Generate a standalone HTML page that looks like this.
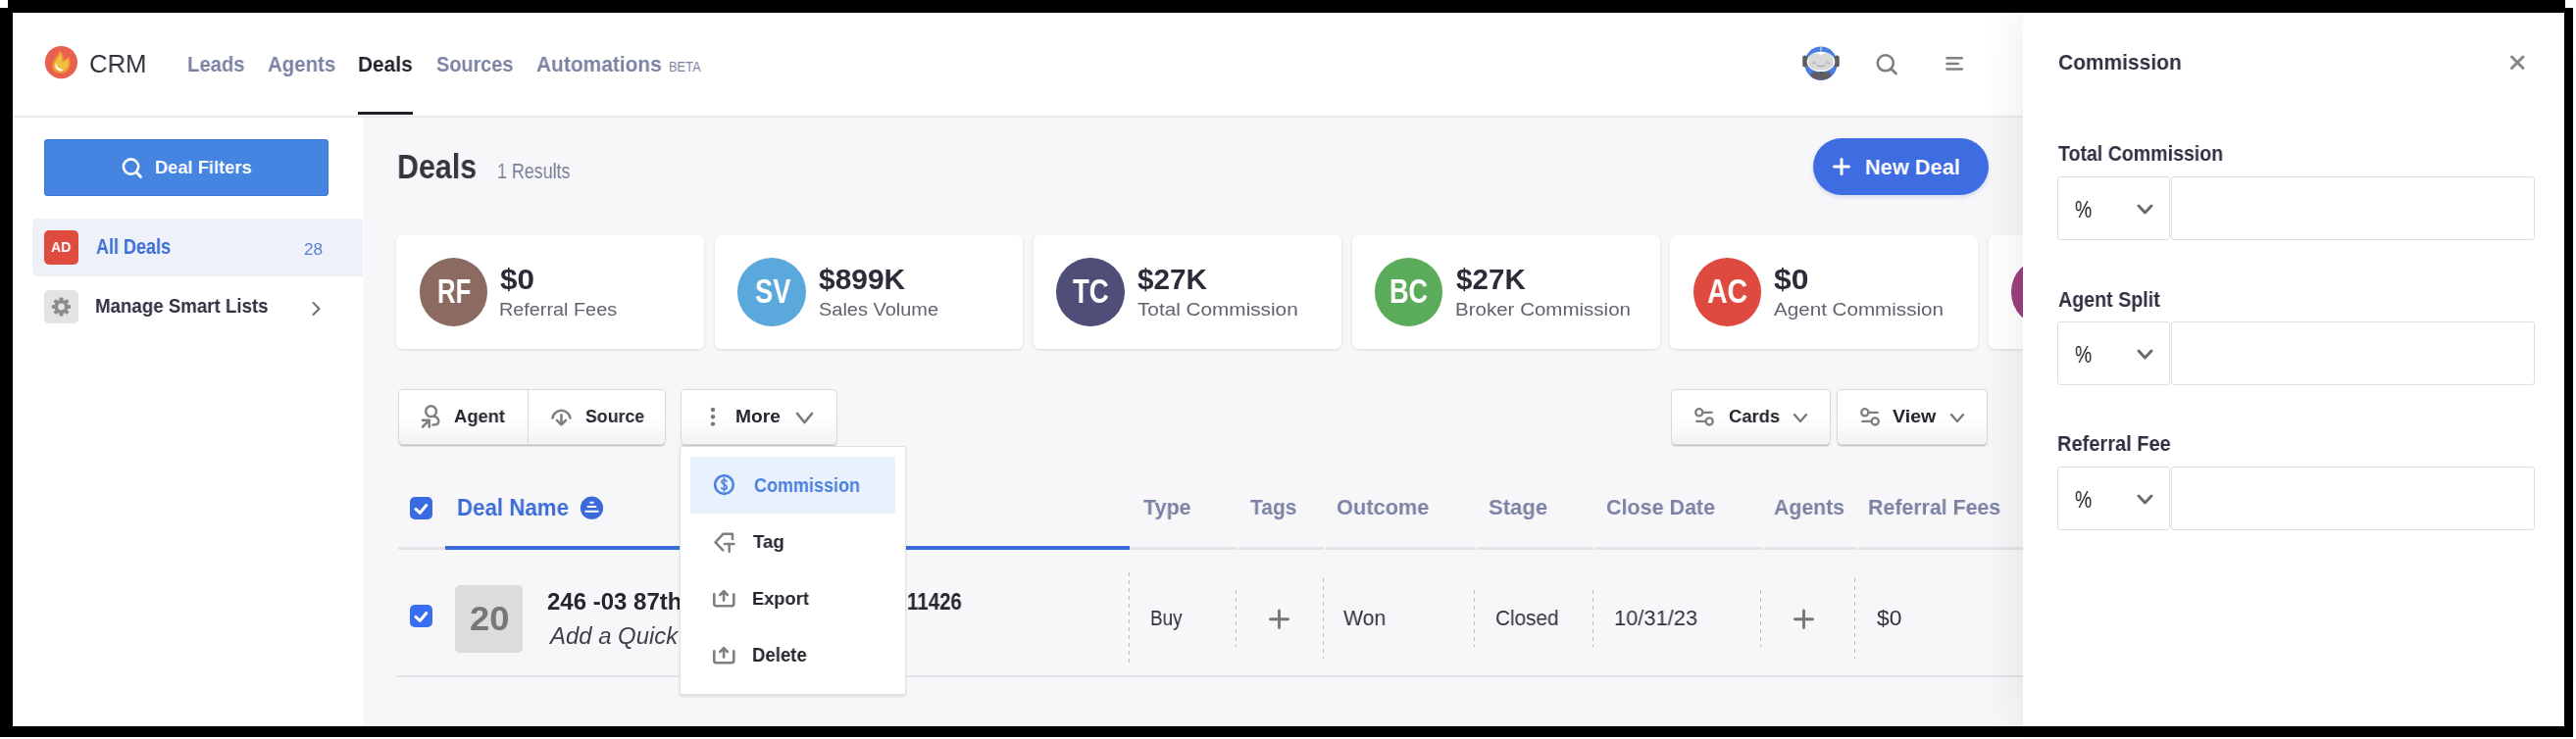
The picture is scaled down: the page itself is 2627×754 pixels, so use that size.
<!DOCTYPE html>
<html><head><meta charset="utf-8"><style>
html,body{margin:0;padding:0;}
body{width:2627px;height:754px;position:relative;overflow:hidden;background:#fff;font-family:"Liberation Sans",sans-serif;}
</style></head><body>
<div style="position:absolute;left:371px;top:120px;width:2244px;height:621px;background:#f7f7f9"></div>
<div style="position:absolute;left:13px;top:118px;width:2050px;height:2px;background:#ebebee"></div>
<div style="position:absolute;left:365px;top:114px;width:56px;height:3px;background:#1f2029"></div>
<svg style="position:absolute;left:44px;top:45px;" width="36" height="36" viewBox="0 0 36 36">
<circle cx="18.4" cy="18.6" r="16.6" fill="#e8604e"/>
<path d="M16.8 6.5 C19.5 9 21.5 12 20.5 16.5 C22.5 15.5 24.5 14.5 26.3 12.5 C28.5 17 28.5 24 24 28 C20 31 12.5 30.5 10 26 C8 22 9.5 18 12 14.5 C14 11.5 16.5 9.5 16.8 6.5 Z" fill="#f2913c"/>
<path d="M17.2 9.5 C19 11.5 19.8 14.5 18.8 18.5 C21.5 18 23.5 16.8 25.2 15.5 C26.3 19.5 25.8 23.5 22.8 26.2 C19.5 28.7 13.8 28.3 11.9 25 C10.5 22 11.6 18.8 13.6 16 C15.3 13.5 17 11.8 17.2 9.5 Z" fill="#eec23e"/>
<path d="M12.6 19.5 C11.6 24.5 15 28.2 20.2 27.3 C19.6 25.6 17.2 25.4 15.7 24 C14.2 22.6 13.4 21 12.6 19.5 Z" fill="#ffffff"/>
</svg>
<svg style="position:absolute;left:1836px;top:45px;" width="42" height="40" viewBox="0 0 42 40">
<ellipse cx="21" cy="19.8" rx="16.6" ry="17.3" fill="#4a7ee0"/>
<path d="M12 28.6 H30 Q32.5 31.5 29.5 34.5 Q21 38.6 12.5 34.5 Q9.5 31.5 12 28.6 Z" fill="#5f5f5f"/>
<rect x="20" y="28.2" width="2.2" height="1.6" rx="0.8" fill="#333"/>
<rect x="2.2" y="11.5" width="5.5" height="12" rx="2.5" fill="#5f5f5f"/>
<rect x="34.3" y="11.5" width="5.5" height="12" rx="2.5" fill="#5f5f5f"/>
<ellipse cx="21" cy="18" rx="14.3" ry="10.2" fill="#ffffff"/>
<path d="M8.2 18.5 Q8.2 10 15 9.3 Q18.5 9.2 21 11 Q23.5 9.2 27 9.3 Q33.8 10 33.8 18.5 Q33.5 26.6 21 26.8 Q8.5 26.6 8.2 18.5 Z" fill="#d8d8d8"/>
<path d="M12.5 19.8 Q14.3 17.3 16.1 19.8 M25.9 19.8 Q27.7 17.3 29.5 19.8 M17 21.8 Q21 24 25 21.8" stroke="#9a9a9a" stroke-width="0.9" fill="none"/>
<rect x="20.4" y="2.5" width="1.2" height="6" fill="#c9d6f2"/>
</svg>
<svg style="position:absolute;left:1910px;top:52px;" width="28" height="28" viewBox="0 0 28 28"><circle cx="12.8" cy="12.3" r="8" stroke="#808080" stroke-width="2.6" fill="none"/><path d="M18.6 18.2 L23.5 23" stroke="#808080" stroke-width="2.8" stroke-linecap="round"/></svg>
<svg style="position:absolute;left:1982px;top:55px;" width="24" height="20" viewBox="0 0 24 20"><path d="M3.5 4.3 H18.8 M3.5 9.9 H14.8 M3.5 15.6 H18.8" stroke="#808080" stroke-width="2.5" stroke-linecap="round"/></svg>
<div style="position:absolute;left:33px;top:223px;width:337px;height:59px;background:#eff1f8;border-radius:5px 0 0 5px"></div>
<div style="position:absolute;left:45px;top:142px;width:290px;height:58px;background:#4584e0;border-radius:4px;box-shadow:inset 0 0 0 1px #3f78d4"></div>
<svg style="position:absolute;left:120px;top:158px;" width="30" height="28" viewBox="0 0 30 28"><circle cx="13.5" cy="12" r="7.6" stroke="#fff" stroke-width="2.6" fill="none"/><path d="M19 17.7 L23.5 22.5" stroke="#fff" stroke-width="2.8" stroke-linecap="round"/></svg>
<div style="position:absolute;left:45px;top:235px;width:35px;height:35px;background:#e04b3f;border-radius:5px"></div>
<div style="position:absolute;left:45px;top:296px;width:35px;height:34px;background:#e3e3e3;border-radius:5px"></div>
<svg style="position:absolute;left:45px;top:296px;" width="35" height="34" viewBox="0 0 35 34"><g transform="translate(17.5 17)"><rect x="-2" y="-9.6" width="4" height="5" rx="1.2" fill="#8c8c8c" transform="rotate(0)"/><rect x="-2" y="-9.6" width="4" height="5" rx="1.2" fill="#8c8c8c" transform="rotate(45)"/><rect x="-2" y="-9.6" width="4" height="5" rx="1.2" fill="#8c8c8c" transform="rotate(90)"/><rect x="-2" y="-9.6" width="4" height="5" rx="1.2" fill="#8c8c8c" transform="rotate(135)"/><rect x="-2" y="-9.6" width="4" height="5" rx="1.2" fill="#8c8c8c" transform="rotate(180)"/><rect x="-2" y="-9.6" width="4" height="5" rx="1.2" fill="#8c8c8c" transform="rotate(225)"/><rect x="-2" y="-9.6" width="4" height="5" rx="1.2" fill="#8c8c8c" transform="rotate(270)"/><rect x="-2" y="-9.6" width="4" height="5" rx="1.2" fill="#8c8c8c" transform="rotate(315)"/><circle r="6.9" fill="#8c8c8c"/><circle r="3.4" fill="#e3e3e3"/></g></svg>
<svg style="position:absolute;left:313px;top:303px;" width="20" height="24" viewBox="0 0 20 24"><path d="M6.5 6 L12.5 12 L6.5 18" stroke="#6e6e6e" stroke-width="2" fill="none" stroke-linecap="round" stroke-linejoin="round"/></svg>
<div style="position:absolute;left:1849px;top:141px;width:179px;height:58px;background:#3e6de2;border-radius:29px;box-shadow:0 2px 4px rgba(40,80,180,0.18)"></div>
<svg style="position:absolute;left:1866px;top:158px;" width="24" height="24" viewBox="0 0 24 24"><path d="M12 4.5 V19.5 M4.5 12 H19.5" stroke="#fff" stroke-width="3" stroke-linecap="round"/></svg>
<div style="position:absolute;left:404px;top:240px;width:314px;height:116px;background:#fff;border-radius:6px;box-shadow:0 1px 3px rgba(0,0,0,0.12)"></div>
<div style="position:absolute;left:427.65px;top:263px;width:69.5px;height:69.5px;border-radius:50%;background:#8b6b61"></div>
<div style="position:absolute;left:729px;top:240px;width:314px;height:116px;background:#fff;border-radius:6px;box-shadow:0 1px 3px rgba(0,0,0,0.12)"></div>
<div style="position:absolute;left:752.40px;top:263px;width:69.5px;height:69.5px;border-radius:50%;background:#5ba8dc"></div>
<div style="position:absolute;left:1054px;top:240px;width:314px;height:116px;background:#fff;border-radius:6px;box-shadow:0 1px 3px rgba(0,0,0,0.12)"></div>
<div style="position:absolute;left:1077.15px;top:263px;width:69.5px;height:69.5px;border-radius:50%;background:#4f4e78"></div>
<div style="position:absolute;left:1379px;top:240px;width:314px;height:116px;background:#fff;border-radius:6px;box-shadow:0 1px 3px rgba(0,0,0,0.12)"></div>
<div style="position:absolute;left:1401.90px;top:263px;width:69.5px;height:69.5px;border-radius:50%;background:#5aab5a"></div>
<div style="position:absolute;left:1703px;top:240px;width:314px;height:116px;background:#fff;border-radius:6px;box-shadow:0 1px 3px rgba(0,0,0,0.12)"></div>
<div style="position:absolute;left:1726.65px;top:263px;width:69.5px;height:69.5px;border-radius:50%;background:#de4a3f"></div>
<div style="position:absolute;left:2028px;top:240px;width:314px;height:116px;background:#fff;border-radius:6px;box-shadow:0 1px 3px rgba(0,0,0,0.12)"></div>
<div style="position:absolute;left:2051.40px;top:263px;width:69.5px;height:69.5px;border-radius:50%;background:#9b3f7e"></div>
<div style="position:absolute;left:406px;top:397px;width:273px;height:57px;background:linear-gradient(#fff 50%,#f3f3f5);border:1px solid #d8d9dd;border-radius:5px;box-shadow:0 2px 2px -1px rgba(0,0,0,0.28);box-sizing:border-box"></div>
<div style="position:absolute;left:538px;top:398px;width:1px;height:55px;background:#dcdde1"></div>
<div style="position:absolute;left:694px;top:397px;width:160px;height:57px;background:linear-gradient(#fff 50%,#f3f3f5);border:1px solid #d8d9dd;border-radius:5px;box-shadow:0 2px 2px -1px rgba(0,0,0,0.28);box-sizing:border-box"></div>
<div style="position:absolute;left:1704px;top:397px;width:163px;height:57px;background:linear-gradient(#fff 50%,#f3f3f5);border:1px solid #d8d9dd;border-radius:5px;box-shadow:0 2px 2px -1px rgba(0,0,0,0.28);box-sizing:border-box"></div>
<div style="position:absolute;left:1873px;top:397px;width:154px;height:57px;background:linear-gradient(#fff 50%,#f3f3f5);border:1px solid #d8d9dd;border-radius:5px;box-shadow:0 2px 2px -1px rgba(0,0,0,0.28);box-sizing:border-box"></div>
<svg style="position:absolute;left:424px;top:408px;" width="32" height="32" viewBox="0 0 32 32"><circle cx="15.6" cy="11.7" r="5.4" stroke="#808080" stroke-width="2.5" fill="none"/><path d="M18.5 16.5 C23 18 24 21 23 23.5 C22 25.5 19.5 25.5 17.5 25.5" stroke="#808080" stroke-width="2.5" fill="none" stroke-linecap="round"/><path d="M7 27.5 L13.8 20.7 M7 20.8 H13.8 V27.5" stroke="#808080" stroke-width="2.5" fill="none" stroke-linecap="round" stroke-linejoin="round"/></svg>
<svg style="position:absolute;left:556px;top:408px;" width="32" height="32" viewBox="0 0 32 32"><path d="M7.5 18.5 A9.1 9.1 0 0 1 25.5 18.5" stroke="#808080" stroke-width="2.6" fill="none" stroke-linecap="round"/><path d="M16.5 15.2 V25.2 M12 20.8 L16.5 25.3 L21 20.8" stroke="#808080" stroke-width="2.6" fill="none" stroke-linecap="round" stroke-linejoin="round"/></svg>
<svg style="position:absolute;left:720px;top:412px;" width="14" height="26" viewBox="0 0 14 26"><circle cx="7" cy="6" r="2.2" fill="#7a7a7a"/><circle cx="7" cy="13.3" r="2.2" fill="#7a7a7a"/><circle cx="7" cy="20.6" r="2.2" fill="#7a7a7a"/></svg>
<svg style="position:absolute;left:811px;top:420px;" width="19" height="13" viewBox="0 0 19 13"><path d="M2 2 L9.5 11 L17 2" stroke="#7a7a7a" stroke-width="2.7" fill="none" stroke-linecap="round" stroke-linejoin="round"/></svg>
<svg style="position:absolute;left:1725px;top:413px;" width="26" height="26" viewBox="0 0 26 26"><circle cx="7.8" cy="7.8" r="3.6" stroke="#808080" stroke-width="2.3" fill="none"/><path d="M11.5 7.8 H20.8" stroke="#808080" stroke-width="2.3" stroke-linecap="round"/><circle cx="18.2" cy="16.9" r="3.6" stroke="#808080" stroke-width="2.3" fill="none"/><path d="M5.2 16.9 H14.5" stroke="#808080" stroke-width="2.3" stroke-linecap="round"/></svg>
<svg style="position:absolute;left:1894px;top:413px;" width="26" height="26" viewBox="0 0 26 26"><circle cx="7.8" cy="7.8" r="3.6" stroke="#808080" stroke-width="2.3" fill="none"/><path d="M11.5 7.8 H20.8" stroke="#808080" stroke-width="2.3" stroke-linecap="round"/><circle cx="18.2" cy="16.9" r="3.6" stroke="#808080" stroke-width="2.3" fill="none"/><path d="M5.2 16.9 H14.5" stroke="#808080" stroke-width="2.3" stroke-linecap="round"/></svg>
<svg style="position:absolute;left:1828px;top:421px;" width="16" height="11" viewBox="0 0 16 11"><path d="M2 2 L8.0 9 L14 2" stroke="#7a7a7a" stroke-width="2.3" fill="none" stroke-linecap="round" stroke-linejoin="round"/></svg>
<svg style="position:absolute;left:1988px;top:421px;" width="16" height="11" viewBox="0 0 16 11"><path d="M2 2 L8.0 9 L14 2" stroke="#7a7a7a" stroke-width="2.3" fill="none" stroke-linecap="round" stroke-linejoin="round"/></svg>
<div style="position:absolute;left:406px;top:558px;width:1657px;height:3px;background:#e3e4e8"></div>
<div style="position:absolute;left:454px;top:557px;width:698px;height:4px;background:#3b6bdb"></div>
<div style="position:absolute;left:1261px;top:557px;width:2px;height:5px;background:#f7f7f9"></div>
<div style="position:absolute;left:1350px;top:557px;width:2px;height:5px;background:#f7f7f9"></div>
<div style="position:absolute;left:1505px;top:557px;width:2px;height:5px;background:#f7f7f9"></div>
<div style="position:absolute;left:1625px;top:557px;width:2px;height:5px;background:#f7f7f9"></div>
<div style="position:absolute;left:1797px;top:557px;width:2px;height:5px;background:#f7f7f9"></div>
<div style="position:absolute;left:1893px;top:557px;width:2px;height:5px;background:#f7f7f9"></div>
<div style="position:absolute;left:418px;top:507px;width:23px;height:23px;background:#3b6be0;border-radius:5px"></div>
<svg style="position:absolute;left:418px;top:507px;" width="23" height="23" viewBox="0 0 23 23"><path d="M6 12.4 L10.3 16.3 L16.8 8.5" stroke="#fff" stroke-width="3" fill="none" stroke-linecap="round" stroke-linejoin="round"/></svg>
<svg style="position:absolute;left:591px;top:506px;" width="25" height="25" viewBox="0 0 25 25"><circle cx="12.5" cy="12.2" r="11.6" fill="#3b6bdb"/><path d="M11.2 6.7 H13.8 M8.6 11 H16.4 M6.3 15.7 H18.7" stroke="#fff" stroke-width="2" stroke-linecap="round"/></svg>
<div style="position:absolute;left:418px;top:617px;width:23px;height:23px;background:#3a6ef0;border-radius:5px"></div>
<svg style="position:absolute;left:418px;top:617px;" width="23" height="23" viewBox="0 0 23 23"><path d="M6 12.4 L10.3 16.3 L16.8 8.5" stroke="#fff" stroke-width="3" fill="none" stroke-linecap="round" stroke-linejoin="round"/></svg>
<div style="position:absolute;left:464px;top:597px;width:69px;height:69px;background:#dcdcdc;border-radius:5px"></div>
<div style="position:absolute;left:404px;top:689px;width:1659px;height:2px;background:#e3e4e8"></div>
<div style="position:absolute;left:1151px;top:584px;width:1px;height:92px;background:repeating-linear-gradient(to bottom,#bcbdc2 0 4px,transparent 4px 8px)"></div>
<div style="position:absolute;left:1260px;top:602px;width:1px;height:58px;background:repeating-linear-gradient(to bottom,#bcbdc2 0 4px,transparent 4px 8px)"></div>
<div style="position:absolute;left:1349px;top:590px;width:1px;height:82px;background:repeating-linear-gradient(to bottom,#bcbdc2 0 4px,transparent 4px 8px)"></div>
<div style="position:absolute;left:1503px;top:602px;width:1px;height:58px;background:repeating-linear-gradient(to bottom,#bcbdc2 0 4px,transparent 4px 8px)"></div>
<div style="position:absolute;left:1624px;top:602px;width:1px;height:58px;background:repeating-linear-gradient(to bottom,#bcbdc2 0 4px,transparent 4px 8px)"></div>
<div style="position:absolute;left:1795px;top:602px;width:1px;height:58px;background:repeating-linear-gradient(to bottom,#bcbdc2 0 4px,transparent 4px 8px)"></div>
<div style="position:absolute;left:1891px;top:590px;width:1px;height:82px;background:repeating-linear-gradient(to bottom,#bcbdc2 0 4px,transparent 4px 8px)"></div>
<svg style="position:absolute;left:1290px;top:617px;" width="29" height="29" viewBox="0 0 29 29"><path d="M14.5 6 V23.5 M5.5 14.8 H23.5" stroke="#777" stroke-width="2.9" stroke-linecap="round"/></svg>
<svg style="position:absolute;left:1825px;top:617px;" width="29" height="29" viewBox="0 0 29 29"><path d="M14.5 6 V23.5 M5.5 14.8 H23.5" stroke="#777" stroke-width="2.9" stroke-linecap="round"/></svg>
<div style="position:absolute;left:1905.41px;top:505.51px;font-size:22.81px;line-height:22.81px;font-weight:bold;font-style:normal;color:#7b82a3;white-space:nowrap;will-change:transform;transform:scaleX(0.9359);transform-origin:0 0;">Referral Fees</div>
<div style="position:absolute;left:558.10px;top:602.52px;font-size:23.33px;line-height:23.33px;font-weight:bold;font-style:normal;color:#25252f;white-space:nowrap;will-change:transform;transform:scaleX(1.0289);transform-origin:0 0;">246 -03 87th</div>
<div style="position:absolute;left:700.30px;top:602.52px;font-size:23.33px;line-height:23.33px;font-weight:bold;font-style:normal;color:#25252f;white-space:nowrap;will-change:transform;transform:scaleX(0.9718);transform-origin:0 0;">Ave, Floral Park, NY</div>
<div style="position:absolute;left:924.75px;top:602.52px;font-size:23.33px;line-height:23.33px;font-weight:bold;font-style:normal;color:#25252f;white-space:nowrap;will-change:transform;transform:scaleX(0.8784);transform-origin:0 0;">11426</div>
<div style="position:absolute;left:560.53px;top:636.72px;font-size:23.91px;line-height:23.91px;font-weight:normal;font-style:italic;color:#3f3f48;white-space:nowrap;will-change:transform;">Add a Quick Note</div>
<div style="position:absolute;left:1913.70px;top:619.61px;font-size:22.46px;line-height:22.46px;font-weight:normal;font-style:normal;color:#30313c;white-space:nowrap;will-change:transform;transform:scaleX(1.0158);transform-origin:0 0;">$0</div>
<div style="position:absolute;left:693px;top:455px;width:231px;height:254px;background:#fff;border:1px solid #dfe0e4;border-radius:2px;box-shadow:0 2px 3px rgba(0,0,0,0.10);box-sizing:border-box"></div>
<div style="position:absolute;left:704px;top:466px;width:209px;height:58px;background:#e9f1fd"></div>
<svg style="position:absolute;left:726px;top:483px;" width="26" height="26" viewBox="0 0 26 26"><circle cx="12.5" cy="11.6" r="9.3" stroke="#4a84e0" stroke-width="2.6" fill="none"/><path d="M15.2 8.2 C14.6 7 13.6 6.7 12.5 6.7 C11 6.7 9.9 7.5 9.9 8.8 C9.9 11.7 15.3 10.6 15.3 13.9 C15.3 15.3 14.2 16.3 12.5 16.3 C11.1 16.3 10.2 15.8 9.7 14.7 M12.5 4.9 V18.3" stroke="#4a84e0" stroke-width="1.6" fill="none" stroke-linecap="round"/></svg>
<svg style="position:absolute;left:724px;top:540px;" width="30" height="28" viewBox="0 0 30 28"><path d="M13.6 4.7 H23 V10.1 M5.5 13.3 L13.6 4.7 M5.5 13.3 L13.3 21.4 M14.9 15.1 H24.4 M19.7 15.1 V22.7" stroke="#808080" stroke-width="2.5" fill="none" stroke-linecap="round" stroke-linejoin="round"/></svg>
<svg style="position:absolute;left:723px;top:600px;" width="30" height="22" viewBox="0 0 30 22"><path d="M5.3 6.3 V16 C5.3 17.5 6.2 18.3 7.6 18.3 H23 C24.4 18.3 25.3 17.5 25.3 16 V6.3" stroke="#808080" stroke-width="2.6" fill="none" stroke-linecap="round"/><path d="M15.1 12.6 V3.5 M11.3 7 L15.1 3.2 L18.9 7" stroke="#808080" stroke-width="2.6" fill="none" stroke-linecap="round" stroke-linejoin="round"/></svg>
<svg style="position:absolute;left:723px;top:658px;" width="30" height="22" viewBox="0 0 30 22"><path d="M5.3 6.3 V16 C5.3 17.5 6.2 18.3 7.6 18.3 H23 C24.4 18.3 25.3 17.5 25.3 16 V6.3" stroke="#808080" stroke-width="2.6" fill="none" stroke-linecap="round"/><path d="M15.1 12.6 V3.5 M11.3 7 L15.1 3.2 L18.9 7" stroke="#808080" stroke-width="2.6" fill="none" stroke-linecap="round" stroke-linejoin="round"/></svg>
<div style="position:absolute;left:2063px;top:13px;width:552px;height:728px;background:#fff;box-shadow:-8px 0 40px rgba(0,0,0,0.065)"></div>
<svg style="position:absolute;left:2556px;top:53px;" width="22" height="22" viewBox="0 0 22 22"><path d="M5.5 5 L17 16.5 M17 5 L5.5 16.5" stroke="#888" stroke-width="3" stroke-linecap="round"/></svg>
<div style="position:absolute;left:2098px;top:180px;width:115px;height:65px;background:#fff;border:1.5px solid #dddee2;border-radius:3px;box-sizing:border-box"></div>
<div style="position:absolute;left:2214px;top:180px;width:371px;height:65px;background:#fff;border:1.5px solid #dddee2;border-radius:3px;box-sizing:border-box"></div>
<svg style="position:absolute;left:2179px;top:208px;" width="17" height="11" viewBox="0 0 17 11"><path d="M2 2 L8.5 9 L15 2" stroke="#6a6a6a" stroke-width="2.9" fill="none" stroke-linecap="round" stroke-linejoin="round"/></svg>
<div style="position:absolute;left:2098px;top:328px;width:115px;height:65px;background:#fff;border:1.5px solid #dddee2;border-radius:3px;box-sizing:border-box"></div>
<div style="position:absolute;left:2214px;top:328px;width:371px;height:65px;background:#fff;border:1.5px solid #dddee2;border-radius:3px;box-sizing:border-box"></div>
<svg style="position:absolute;left:2179px;top:356px;" width="17" height="11" viewBox="0 0 17 11"><path d="M2 2 L8.5 9 L15 2" stroke="#6a6a6a" stroke-width="2.9" fill="none" stroke-linecap="round" stroke-linejoin="round"/></svg>
<div style="position:absolute;left:2098px;top:476px;width:115px;height:65px;background:#fff;border:1.5px solid #dddee2;border-radius:3px;box-sizing:border-box"></div>
<div style="position:absolute;left:2214px;top:476px;width:371px;height:65px;background:#fff;border:1.5px solid #dddee2;border-radius:3px;box-sizing:border-box"></div>
<svg style="position:absolute;left:2179px;top:504px;" width="17" height="11" viewBox="0 0 17 11"><path d="M2 2 L8.5 9 L15 2" stroke="#6a6a6a" stroke-width="2.9" fill="none" stroke-linecap="round" stroke-linejoin="round"/></svg>
<div style="position:absolute;left:91.45px;top:51.70px;font-size:26.23px;line-height:26.23px;font-weight:normal;font-style:normal;color:#30313c;white-space:nowrap;will-change:transform;transform:scaleX(0.9802);transform-origin:0 0;">CRM</div>
<div style="position:absolute;left:190.93px;top:54.68px;font-size:22.32px;line-height:22.32px;font-weight:bold;font-style:normal;color:#7b82a3;white-space:nowrap;will-change:transform;transform:scaleX(0.9083);transform-origin:0 0;">Leads</div>
<div style="position:absolute;left:273.30px;top:54.68px;font-size:22.32px;line-height:22.32px;font-weight:bold;font-style:normal;color:#7b82a3;white-space:nowrap;will-change:transform;transform:scaleX(0.9152);transform-origin:0 0;">Agents</div>
<div style="position:absolute;left:365.40px;top:54.68px;font-size:22.32px;line-height:22.32px;font-weight:bold;font-style:normal;color:#1f2029;white-space:nowrap;will-change:transform;transform:scaleX(0.9342);transform-origin:0 0;">Deals</div>
<div style="position:absolute;left:445.10px;top:54.68px;font-size:22.32px;line-height:22.32px;font-weight:bold;font-style:normal;color:#7b82a3;white-space:nowrap;will-change:transform;transform:scaleX(0.8892);transform-origin:0 0;">Sources</div>
<div style="position:absolute;left:546.80px;top:54.68px;font-size:22.32px;line-height:22.32px;font-weight:bold;font-style:normal;color:#7b82a3;white-space:nowrap;will-change:transform;transform:scaleX(0.9370);transform-origin:0 0;">Automations</div>
<div style="position:absolute;left:682.42px;top:60.71px;font-size:14.04px;line-height:14.04px;font-weight:normal;font-style:normal;color:#7b82a3;white-space:nowrap;will-change:transform;transform:scaleX(0.9203);transform-origin:0 0;">BETA</div>
<div style="position:absolute;left:157.81px;top:160.65px;font-size:19.12px;line-height:19.12px;font-weight:bold;font-style:normal;color:#ffffff;white-space:nowrap;will-change:transform;transform:scaleX(0.9582);transform-origin:0 0;">Deal Filters</div>
<div style="position:absolute;left:97.60px;top:240.52px;font-size:21.74px;line-height:21.74px;font-weight:bold;font-style:normal;color:#3b6fd8;white-space:nowrap;will-change:transform;transform:scaleX(0.8287);transform-origin:0 0;">All Deals</div>
<div style="position:absolute;left:309.60px;top:246.66px;font-size:16.52px;line-height:16.52px;font-weight:normal;font-style:normal;color:#5a7fd2;white-space:nowrap;will-change:transform;transform:scaleX(1.0378);transform-origin:0 0;">28</div>
<div style="position:absolute;left:52.00px;top:243.64px;font-size:15.36px;line-height:15.36px;font-weight:bold;font-style:normal;color:#ffffff;white-space:nowrap;will-change:transform;transform:scaleX(0.9224);transform-origin:0 0;">AD</div>
<div style="position:absolute;left:96.72px;top:301.58px;font-size:20.43px;line-height:20.43px;font-weight:bold;font-style:normal;color:#2f3040;white-space:nowrap;will-change:transform;transform:scaleX(0.9152);transform-origin:0 0;">Manage Smart Lists</div>
<div style="position:absolute;left:404.63px;top:152.60px;font-size:35.65px;line-height:35.65px;font-weight:bold;font-style:normal;color:#34353f;white-space:nowrap;will-change:transform;transform:scaleX(0.8532);transform-origin:0 0;">Deals</div>
<div style="position:absolute;left:506.52px;top:163.55px;font-size:22.17px;line-height:22.17px;font-weight:normal;font-style:normal;color:#7b8199;white-space:nowrap;will-change:transform;transform:scaleX(0.8062);transform-origin:0 0;">1 Results</div>
<div style="position:absolute;left:1902.17px;top:159.68px;font-size:22.61px;line-height:22.61px;font-weight:bold;font-style:normal;color:#ffffff;white-space:nowrap;will-change:transform;transform:scaleX(0.9647);transform-origin:0 0;">New Deal</div>
<div style="position:absolute;left:463.00px;top:415.53px;font-size:18.55px;line-height:18.55px;font-weight:bold;font-style:normal;color:#25252f;white-space:nowrap;will-change:transform;transform:scaleX(0.9900);transform-origin:0 0;">Agent</div>
<div style="position:absolute;left:596.70px;top:415.53px;font-size:18.55px;line-height:18.55px;font-weight:bold;font-style:normal;color:#25252f;white-space:nowrap;will-change:transform;transform:scaleX(0.9581);transform-origin:0 0;">Source</div>
<div style="position:absolute;left:749.81px;top:415.53px;font-size:18.55px;line-height:18.55px;font-weight:bold;font-style:normal;color:#25252f;white-space:nowrap;will-change:transform;transform:scaleX(1.0360);transform-origin:0 0;">More</div>
<div style="position:absolute;left:1762.80px;top:414.56px;font-size:19.23px;line-height:19.23px;font-weight:bold;font-style:normal;color:#25252f;white-space:nowrap;will-change:transform;transform:scaleX(0.9580);transform-origin:0 0;">Cards</div>
<div style="position:absolute;left:1930.20px;top:414.56px;font-size:19.23px;line-height:19.23px;font-weight:bold;font-style:normal;color:#25252f;white-space:nowrap;will-change:transform;transform:scaleX(1.0198);transform-origin:0 0;">View</div>
<div style="position:absolute;left:466.17px;top:506.69px;font-size:23.19px;line-height:23.19px;font-weight:bold;font-style:normal;color:#3b6bd6;white-space:nowrap;will-change:transform;transform:scaleX(0.9607);transform-origin:0 0;">Deal Name</div>
<div style="position:absolute;left:1165.90px;top:505.51px;font-size:22.81px;line-height:22.81px;font-weight:bold;font-style:normal;color:#7b82a3;white-space:nowrap;will-change:transform;transform:scaleX(0.9423);transform-origin:0 0;">Type</div>
<div style="position:absolute;left:1274.50px;top:505.51px;font-size:22.81px;line-height:22.81px;font-weight:bold;font-style:normal;color:#7b82a3;white-space:nowrap;will-change:transform;transform:scaleX(0.9209);transform-origin:0 0;">Tags</div>
<div style="position:absolute;left:1363.00px;top:505.51px;font-size:22.81px;line-height:22.81px;font-weight:bold;font-style:normal;color:#7b82a3;white-space:nowrap;will-change:transform;transform:scaleX(0.9557);transform-origin:0 0;">Outcome</div>
<div style="position:absolute;left:1518.30px;top:505.51px;font-size:22.81px;line-height:22.81px;font-weight:bold;font-style:normal;color:#7b82a3;white-space:nowrap;will-change:transform;transform:scaleX(0.9673);transform-origin:0 0;">Stage</div>
<div style="position:absolute;left:1638.40px;top:505.51px;font-size:22.81px;line-height:22.81px;font-weight:bold;font-style:normal;color:#7b82a3;white-space:nowrap;will-change:transform;transform:scaleX(0.9422);transform-origin:0 0;">Close Date</div>
<div style="position:absolute;left:1808.90px;top:505.51px;font-size:22.81px;line-height:22.81px;font-weight:bold;font-style:normal;color:#7b82a3;white-space:nowrap;will-change:transform;transform:scaleX(0.9323);transform-origin:0 0;">Agents</div>
<div style="position:absolute;left:479.17px;top:613.63px;font-size:34.49px;line-height:34.49px;font-weight:bold;font-style:normal;color:#777777;white-space:nowrap;will-change:transform;transform:scaleX(1.0561);transform-origin:0 0;">20</div>
<div style="position:absolute;left:1172.89px;top:619.61px;font-size:22.46px;line-height:22.46px;font-weight:normal;font-style:normal;color:#30313c;white-space:nowrap;will-change:transform;transform:scaleX(0.8408);transform-origin:0 0;">Buy</div>
<div style="position:absolute;left:1370.30px;top:619.61px;font-size:22.46px;line-height:22.46px;font-weight:normal;font-style:normal;color:#30313c;white-space:nowrap;will-change:transform;transform:scaleX(0.9457);transform-origin:0 0;">Won</div>
<div style="position:absolute;left:1524.91px;top:619.61px;font-size:22.46px;line-height:22.46px;font-weight:normal;font-style:normal;color:#30313c;white-space:nowrap;will-change:transform;transform:scaleX(0.9219);transform-origin:0 0;">Closed</div>
<div style="position:absolute;left:1645.56px;top:619.61px;font-size:22.46px;line-height:22.46px;font-weight:normal;font-style:normal;color:#30313c;white-space:nowrap;will-change:transform;transform:scaleX(0.9728);transform-origin:0 0;">10/31/23</div>
<div style="position:absolute;left:768.50px;top:484.65px;font-size:20.29px;line-height:20.29px;font-weight:bold;font-style:normal;color:#4a7fe0;white-space:nowrap;will-change:transform;transform:scaleX(0.8876);transform-origin:0 0;">Commission</div>
<div style="position:absolute;left:768.30px;top:542.67px;font-size:19.28px;line-height:19.28px;font-weight:bold;font-style:normal;color:#25252f;white-space:nowrap;will-change:transform;transform:scaleX(0.9694);transform-origin:0 0;">Tag</div>
<div style="position:absolute;left:767.39px;top:600.74px;font-size:19.13px;line-height:19.13px;font-weight:bold;font-style:normal;color:#25252f;white-space:nowrap;will-change:transform;transform:scaleX(0.9557);transform-origin:0 0;">Export</div>
<div style="position:absolute;left:767.40px;top:658.60px;font-size:19.71px;line-height:19.71px;font-weight:bold;font-style:normal;color:#25252f;white-space:nowrap;will-change:transform;transform:scaleX(0.9422);transform-origin:0 0;">Delete</div>
<div style="position:absolute;left:2098.70px;top:51.61px;font-size:22.75px;line-height:22.75px;font-weight:bold;font-style:normal;color:#2f3040;white-space:nowrap;will-change:transform;transform:scaleX(0.9208);transform-origin:0 0;">Commission</div>
<div style="position:absolute;left:2098.70px;top:146.59px;font-size:21.30px;line-height:21.30px;font-weight:bold;font-style:normal;color:#2f3040;white-space:nowrap;will-change:transform;transform:scaleX(0.9188);transform-origin:0 0;">Total Commission</div>
<div style="position:absolute;left:2098.70px;top:295.52px;font-size:21.45px;line-height:21.45px;font-weight:bold;font-style:normal;color:#2f3040;white-space:nowrap;will-change:transform;transform:scaleX(0.9170);transform-origin:0 0;">Agent Split</div>
<div style="position:absolute;left:2097.85px;top:440.61px;font-size:22.75px;line-height:22.75px;font-weight:bold;font-style:normal;color:#2f3040;white-space:nowrap;will-change:transform;transform:scaleX(0.8806);transform-origin:0 0;">Referral Fee</div>
<div style="position:absolute;left:2115.60px;top:201.71px;font-size:24.64px;line-height:24.64px;font-weight:normal;font-style:normal;color:#151515;white-space:nowrap;will-change:transform;transform:scaleX(0.7812);transform-origin:0 0;">%</div>
<div style="position:absolute;left:2115.60px;top:349.71px;font-size:24.64px;line-height:24.64px;font-weight:normal;font-style:normal;color:#151515;white-space:nowrap;will-change:transform;transform:scaleX(0.7812);transform-origin:0 0;">%</div>
<div style="position:absolute;left:2115.60px;top:497.71px;font-size:24.64px;line-height:24.64px;font-weight:normal;font-style:normal;color:#151515;white-space:nowrap;will-change:transform;transform:scaleX(0.7812);transform-origin:0 0;">%</div>
<div style="position:absolute;left:445.75px;top:279.53px;font-size:34.78px;line-height:34.78px;font-weight:bold;font-style:normal;color:#ffffff;white-space:nowrap;will-change:transform;transform:scaleX(0.7423);transform-origin:0 0;">RF</div>
<div style="position:absolute;left:510.30px;top:270.66px;font-size:28.99px;line-height:28.99px;font-weight:bold;font-style:normal;color:#2b2c38;white-space:nowrap;will-change:transform;transform:scaleX(1.0869);transform-origin:0 0;">$0</div>
<div style="position:absolute;left:509.30px;top:305.66px;font-size:18.99px;line-height:18.99px;font-weight:normal;font-style:normal;color:#62636e;white-space:nowrap;will-change:transform;transform:scaleX(1.0442);transform-origin:0 0;">Referral Fees</div>
<div style="position:absolute;left:769.63px;top:279.53px;font-size:34.78px;line-height:34.78px;font-weight:bold;font-style:normal;color:#ffffff;white-space:nowrap;will-change:transform;transform:scaleX(0.7846);transform-origin:0 0;">SV</div>
<div style="position:absolute;left:835.30px;top:270.66px;font-size:28.99px;line-height:28.99px;font-weight:bold;font-style:normal;color:#2b2c38;white-space:nowrap;will-change:transform;transform:scaleX(1.0324);transform-origin:0 0;">$899K</div>
<div style="position:absolute;left:835.30px;top:305.66px;font-size:18.99px;line-height:18.99px;font-weight:normal;font-style:normal;color:#62636e;white-space:nowrap;will-change:transform;transform:scaleX(1.0518);transform-origin:0 0;">Sales Volume</div>
<div style="position:absolute;left:1094.30px;top:279.53px;font-size:34.78px;line-height:34.78px;font-weight:bold;font-style:normal;color:#ffffff;white-space:nowrap;will-change:transform;transform:scaleX(0.7911);transform-origin:0 0;">TC</div>
<div style="position:absolute;left:1159.50px;top:270.66px;font-size:28.99px;line-height:28.99px;font-weight:bold;font-style:normal;color:#2b2c38;white-space:nowrap;will-change:transform;transform:scaleX(1.0258);transform-origin:0 0;">$27K</div>
<div style="position:absolute;left:1159.50px;top:305.66px;font-size:18.99px;line-height:18.99px;font-weight:normal;font-style:normal;color:#62636e;white-space:nowrap;will-change:transform;transform:scaleX(1.0925);transform-origin:0 0;">Total Commission</div>
<div style="position:absolute;left:1417.48px;top:279.53px;font-size:34.78px;line-height:34.78px;font-weight:bold;font-style:normal;color:#ffffff;white-space:nowrap;will-change:transform;transform:scaleX(0.7802);transform-origin:0 0;">BC</div>
<div style="position:absolute;left:1484.70px;top:270.66px;font-size:28.99px;line-height:28.99px;font-weight:bold;font-style:normal;color:#2b2c38;white-space:nowrap;will-change:transform;transform:scaleX(1.0215);transform-origin:0 0;">$27K</div>
<div style="position:absolute;left:1483.67px;top:305.66px;font-size:18.99px;line-height:18.99px;font-weight:normal;font-style:normal;color:#62636e;white-space:nowrap;will-change:transform;transform:scaleX(1.0807);transform-origin:0 0;">Broker Commission</div>
<div style="position:absolute;left:1741.00px;top:279.53px;font-size:34.78px;line-height:34.78px;font-weight:bold;font-style:normal;color:#ffffff;white-space:nowrap;will-change:transform;transform:scaleX(0.8222);transform-origin:0 0;">AC</div>
<div style="position:absolute;left:1808.90px;top:270.66px;font-size:28.99px;line-height:28.99px;font-weight:bold;font-style:normal;color:#2b2c38;white-space:nowrap;will-change:transform;transform:scaleX(1.0996);transform-origin:0 0;">$0</div>
<div style="position:absolute;left:1808.90px;top:305.66px;font-size:18.99px;line-height:18.99px;font-weight:normal;font-style:normal;color:#62636e;white-space:nowrap;will-change:transform;transform:scaleX(1.0856);transform-origin:0 0;">Agent Commission</div>
<div style="position:absolute;left:8px;top:0px;width:2608px;height:13px;background:#000"></div>
<div style="position:absolute;left:0px;top:8px;width:13px;height:744px;background:#000"></div>
<div style="position:absolute;left:2615px;top:8px;width:9px;height:744px;background:#000"></div>
<div style="position:absolute;left:0px;top:741px;width:2624px;height:11px;background:#000"></div>
</body></html>
